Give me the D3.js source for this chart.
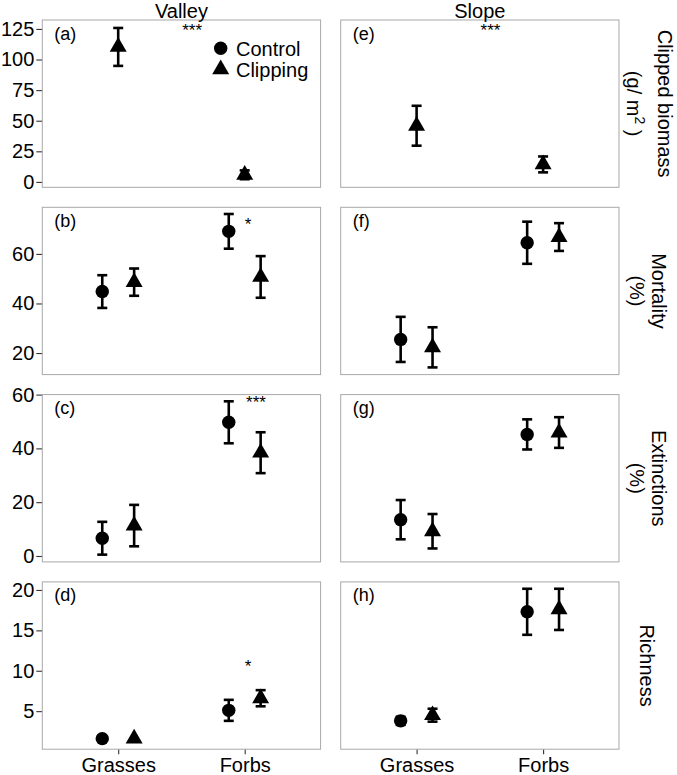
<!DOCTYPE html>
<html><head><meta charset="utf-8">
<script src="https://cdn.jsdelivr.net/npm/d3@7"></script>
<style>body{margin:0;background:#fff} text{font-family:"Liberation Sans",Arial,sans-serif}</style>
</head><body><svg id="chart" width="677" height="775"></svg>
<script>
const categories = ["Grasses", "Forbs"];
const sites = ["Valley", "Slope"];
const treatments = ["Control", "Clipping"];
const rowLabels1 = ["Clipped biomass", "Mortality", "Extinctions", "Richness"];
const rowLabels2 = ["(g/ m", "(%)", "(%)", ""];
const panelLetters = [["(a)", "(b)", "(c)", "(d)"], ["(e)", "(f)", "(g)", "(h)"]];
const yDomains = [[-4.4, 132.3], [11.3, 78.8], [-2.2, 60], [0.29, 21.0]];
const yTicks = [[0, 25, 50, 75, 100, 125], [20, 40, 60], [0, 20, 40, 60], [5, 10, 15, 20]];

// Clipped biomass (g/m2): clipping only
const biomassValleyClip = [110.3, 5.8], biomassValleyClipSE = [15.5, 3.6];
const biomassSlopeClip = [45.9, 14.3], biomassSlopeClipSE = [16.3, 6.5];
// Mortality (%)
const mortValleyCtrl = [44.8, 69.1], mortValleyCtrlSE = [6.6, 7.0];
const mortValleyClip = [48.6, 50.7], mortValleyClipSE = [5.5, 8.4];
const mortSlopeCtrl = [25.5, 64.5], mortSlopeCtrlSE = [9.1, 8.5];
const mortSlopeClip = [22.3, 66.8], mortSlopeClipSE = [8.1, 5.6];
// Extinctions (%)
const extValleyCtrl = [6.6, 49.7], extValleyCtrlSE = [6.1, 7.8];
const extValleyClip = [11.3, 38.4], extValleyClipSE = [7.7, 7.6];
const extSlopeCtrl = [13.5, 45.2], extSlopeCtrlSE = [7.3, 5.6];
const extSlopeClip = [9.2, 45.9], extSlopeClipSE = [6.4, 5.7];
// Richness
const richValleyCtrl = [1.6, 5.1], richValleyCtrlSE = [0, 1.3];
const richValleyClip = [1.6, 6.6], richValleyClipSE = [0, 1.0];
const richSlopeCtrl = [3.8, 17.3], richSlopeCtrlSE = [0.5, 2.85];
const richSlopeClip = [4.5, 17.6], richSlopeClipSE = [0.8, 2.55];

// significance stars
const starCol = [0, 1, 0, 0, 0];
const starRow = [0, 0, 1, 2, 3];
const starX = [1.584, 1.584, 2.026, 2.089, 2.026];
const starY = [127.4, 127.4, 73.7, 58.6, 11.1];
const starText = ["***", "***", "*", "***", "*"];

const ctrlM = [[null, mortValleyCtrl, extValleyCtrl, richValleyCtrl], [null, mortSlopeCtrl, extSlopeCtrl, richSlopeCtrl]];
const ctrlS = [[null, mortValleyCtrlSE, extValleyCtrlSE, richValleyCtrlSE], [null, mortSlopeCtrlSE, extSlopeCtrlSE, richSlopeCtrlSE]];
const clipM = [[biomassValleyClip, mortValleyClip, extValleyClip, richValleyClip], [biomassSlopeClip, mortSlopeClip, extSlopeClip, richSlopeClip]];
const clipS = [[biomassValleyClipSE, mortValleyClipSE, extValleyClipSE, richValleyClipSE], [biomassSlopeClipSE, mortSlopeClipSE, extSlopeClipSE, richSlopeClipSE]];

const svg = d3.select("#chart");
const L = [42.3, 340.7], W = 278.3, T0 = 20, H = 167.3, DY = 187.3;
const FS = 20;
const triSize = 125, circR = 6.7, cap = 5, ebW = 2.6;

function marker(g, trt, cx, cy) {
  if (trt === "Control") {
    g.append("circle").attr("cx", cx).attr("cy", cy).attr("r", circR).attr("fill", "#000");
  } else {
    g.append("path").attr("d", d3.symbol().type(d3.symbolTriangle).size(triSize)())
      .attr("transform", `translate(${cx},${cy})`).attr("fill", "#000");
  }
}

for (let c = 0; c < 2; c++) {
  for (let r = 0; r < 4; r++) {
    const x0 = L[c], y0 = T0 + r * DY;
    const g = svg.append("g").attr("transform", `translate(${x0},${y0})`);
    const x = d3.scalePoint().domain(categories).range([0, W]).padding(0.6);
    const xl = d3.scaleLinear().domain([0.4, 2.6]).range([0, W]);
    const y = d3.scaleLinear().domain(yDomains[r]).range([H, 0]);

    if (c === 0) {
      const ax = g.append("g").call(d3.axisLeft(y).tickValues(yTicks[r]).tickSize(6).tickPadding(2));
      ax.select(".domain").remove();
      ax.selectAll(".tick line").attr("stroke", "#333").attr("stroke-width", 1.1);
      ax.selectAll(".tick text").attr("font-size", FS).attr("fill", "#000").attr("font-family", "Liberation Sans, Arial, sans-serif");
    }
    if (r === 3) {
      const bx = g.append("g").attr("transform", `translate(0,${H})`).call(d3.axisBottom(x).tickSize(5).tickPadding(4));
      bx.select(".domain").remove();
      bx.selectAll(".tick line").attr("stroke", "#333").attr("stroke-width", 1.1);
      bx.selectAll(".tick text").attr("font-size", FS).attr("fill", "#000").attr("font-family", "Liberation Sans, Arial, sans-serif");
    }
    g.append("rect").attr("x", 0).attr("y", 0).attr("width", W).attr("height", H)
      .attr("fill", "none").attr("stroke", "#a8a8a8").attr("stroke-width", 1);

    g.append("text").attr("x", 12).attr("y", 19.5).attr("font-size", 18).text(panelLetters[c][r]);

    const series = [];
    if (ctrlM[c][r]) series.push({ trt: "Control", m: ctrlM[c][r], s: ctrlS[c][r] });
    series.push({ trt: "Clipping", m: clipM[c][r], s: clipS[c][r] });
    const step = x.step();
    series.forEach(se => {
      const off = series.length > 1 ? (se.trt === "Control" ? -1 : 1) * step * 0.126 : 0;
      categories.forEach((cat, i) => {
        const cx = x(cat) + off;
        const m = se.m[i], s = se.s[i];
        if (s > 0) {
          const eg = g.append("g").attr("stroke", "#000").attr("stroke-width", ebW);
          eg.append("line").attr("x1", cx).attr("x2", cx).attr("y1", y(m - s)).attr("y2", y(m + s));
          eg.append("line").attr("x1", cx - cap).attr("x2", cx + cap).attr("y1", y(m + s)).attr("y2", y(m + s));
          eg.append("line").attr("x1", cx - cap).attr("x2", cx + cap).attr("y1", y(m - s)).attr("y2", y(m - s));
        }
        marker(g, se.trt, cx, y(m));
      });
    });

    starText.forEach((t, k) => {
      if (starCol[k] === c && starRow[k] === r) {
        g.append("text").attr("x", xl(starX[k])).attr("y", y(starY[k]) + 0.57 * 17)
          .attr("text-anchor", "middle").attr("font-size", 17).text(t);
      }
    });

    if (r === 0) {
      svg.append("text").attr("x", x0 + W / 2).attr("y", 18).attr("text-anchor", "middle")
        .attr("font-size", FS).text(sites[c]);
    }
    if (r === 0 && c === 0) {
      const lg = g.append("g");
      treatments.forEach((t, k) => {
        marker(lg, t, 178.4, 28.3 + k * 21);
        lg.append("text").attr("x", 193.7).attr("y", 35.5 + k * 21).attr("font-size", FS).text(t);
      });
    }
  }
}
const lab1X = [658, 652, 652, 640];
const lab2X = [627, 630, 630, 0];
for (let r = 0; r < 4; r++) {
  const cy = T0 + r * DY + H / 2;
  svg.append("text").attr("transform", `translate(${lab1X[r]},${cy}) rotate(90)`)
    .attr("text-anchor", "middle").attr("font-size", FS).text(rowLabels1[r]);
  if (rowLabels2[r]) {
    const t = svg.append("text").attr("transform", `translate(${lab2X[r]},${cy}) rotate(90)`)
      .attr("text-anchor", "middle").attr("font-size", FS);
    if (r === 0) {
      t.append("tspan").text(rowLabels2[r]);
      t.append("tspan").attr("font-size", 14).attr("dy", -8).text("2");
      t.append("tspan").attr("dy", 8).text(" )");
    } else {
      t.text(rowLabels2[r]);
    }
  }
}
</script></body></html>
